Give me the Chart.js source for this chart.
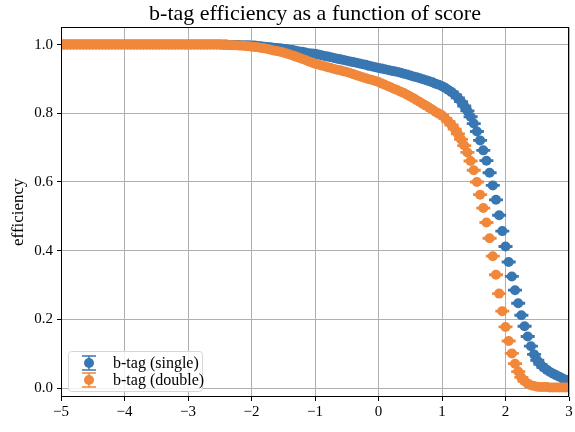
<!DOCTYPE html>
<html>
<head>
<meta charset="utf-8">
<script src="https://cdn.jsdelivr.net/npm/chart.js@4.4.1/dist/chart.umd.min.js"></script>
<style>
  html, body { margin: 0; padding: 0; background: #fff; }
  #wrap { width: 575px; height: 432px; }
</style>
</head>
<body>
<div id="wrap"><canvas id="effChart" width="575" height="432"></canvas></div>
<script>
// score thresholds: -5 .. 3, step 0.05
const SCORE_START = -5, SCORE_STEP = 0.05, SCORE_COUNT = 161;
const scores = Array.from({ length: SCORE_COUNT }, (_, i) => +(SCORE_START + i * SCORE_STEP).toFixed(2));

// efficiency per threshold, one row = 10 thresholds (0.5 in score)
const effSingle = [
  1.000, 1.000, 1.000, 1.000, 1.000, 1.000, 1.000, 1.000, 1.000, 1.000,
  1.000, 1.000, 1.000, 1.000, 1.000, 1.000, 1.000, 1.000, 1.000, 1.000,
  1.000, 1.000, 1.000, 1.000, 1.000, 1.000, 1.000, 1.000, 1.000, 1.000,
  1.000, 1.000, 1.000, 1.000, 1.000, 1.000, 1.000, 1.000, 1.000, 1.000,
  1.000, 1.000, 1.000, 1.000, 1.000, 1.000, 1.000, 1.000, 1.000, 1.000,
  1.000, 1.000, 1.000, 0.999, 0.999, 0.999, 0.999, 0.998, 0.998, 0.998,
  0.997, 0.997, 0.996, 0.995, 0.994, 0.993, 0.992, 0.991, 0.990, 0.989,
  0.988, 0.987, 0.985, 0.984, 0.982, 0.980, 0.979, 0.977, 0.975, 0.974,
  0.973, 0.971, 0.969, 0.967, 0.965, 0.963, 0.961, 0.959, 0.957, 0.955,
  0.953, 0.951, 0.949, 0.947, 0.945, 0.943, 0.941, 0.938, 0.936, 0.934,
  0.932, 0.930, 0.928, 0.926, 0.924, 0.922, 0.920, 0.918, 0.915, 0.913,
  0.910, 0.907, 0.905, 0.902, 0.899, 0.896, 0.893, 0.890, 0.886, 0.883,
  0.879, 0.874, 0.868, 0.862, 0.854, 0.845, 0.834, 0.821, 0.807, 0.790,
  0.770, 0.747, 0.721, 0.692, 0.662, 0.627, 0.590, 0.548, 0.503, 0.457,
  0.412, 0.367, 0.325, 0.285, 0.247, 0.212, 0.180, 0.150, 0.122, 0.098,
  0.081, 0.069, 0.060, 0.053, 0.047, 0.042, 0.037, 0.033, 0.028, 0.024,
  0.020
];
const effDouble = [
  1.000, 1.000, 1.000, 1.000, 1.000, 1.000, 1.000, 1.000, 1.000, 1.000,
  1.000, 1.000, 1.000, 1.000, 1.000, 1.000, 1.000, 1.000, 1.000, 1.000,
  1.000, 1.000, 1.000, 1.000, 1.000, 1.000, 1.000, 1.000, 1.000, 1.000,
  1.000, 1.000, 1.000, 1.000, 1.000, 1.000, 1.000, 1.000, 1.000, 1.000,
  1.000, 1.000, 1.000, 1.000, 1.000, 1.000, 1.000, 1.000, 1.000, 1.000,
  1.000, 0.999, 0.999, 0.999, 0.998, 0.998, 0.997, 0.997, 0.996, 0.995,
  0.994, 0.993, 0.992, 0.990, 0.989, 0.987, 0.985, 0.983, 0.981, 0.979,
  0.977, 0.974, 0.971, 0.968, 0.965, 0.962, 0.958, 0.955, 0.951, 0.948,
  0.944, 0.942, 0.939, 0.937, 0.934, 0.932, 0.929, 0.927, 0.925, 0.922,
  0.920, 0.917, 0.914, 0.911, 0.908, 0.905, 0.902, 0.899, 0.897, 0.894,
  0.891, 0.887, 0.883, 0.879, 0.875, 0.871, 0.867, 0.863, 0.859, 0.854,
  0.849, 0.844, 0.838, 0.833, 0.827, 0.822, 0.816, 0.810, 0.804, 0.799,
  0.794, 0.785, 0.776, 0.766, 0.754, 0.740, 0.724, 0.706, 0.686, 0.661,
  0.634, 0.600, 0.563, 0.524, 0.482, 0.436, 0.384, 0.330, 0.275, 0.224,
  0.178, 0.137, 0.101, 0.071, 0.048, 0.031, 0.020, 0.013, 0.008, 0.006,
  0.004, 0.003, 0.003, 0.003, 0.002, 0.002, 0.002, 0.002, 0.002, 0.002,
  0.002
];
const ERR = 0.002;   // statistical error on each efficiency point

const seriesLabels = ['b-tag (single)', 'b-tag (double)'];
const seriesColors = ['#3877b1', '#f0873a'];
const xTicks = [-5, -4, -3, -2, -1, 0, 1, 2, 3];
const yTicks = [0.0, 0.2, 0.4, 0.6, 0.8, 1.0];
const TITLE = 'b-tag efficiency as a function of score';

const SERIF = '"Liberation Serif", "DejaVu Serif", serif';
Chart.defaults.font.family = SERIF;
Chart.defaults.color = '#000';

const fmtTick = (v, digits) => {
  const s = Math.abs(v).toFixed(digits);
  return v < 0 ? '\u2212' + s : s;
};

// caps of the vertical error bars, drawn under each dataset's markers
const errorBars = {
  id: 'errorBars',
  beforeDatasetDraw(chart, args) {
    const { ctx, chartArea: a } = chart;
    const ds = chart.data.datasets[args.index];
    const yScale = chart.scales.y;
    ctx.save();
    ctx.beginPath();
    ctx.rect(a.left, a.top, a.right - a.left, a.bottom - a.top);
    ctx.clip();
    ctx.strokeStyle = ds.backgroundColor;
    ctx.lineWidth = 1.5;
    args.meta.data.forEach((pt, i) => {
      const v = ds.data[i].y;
      const yHi = yScale.getPixelForValue(v + ERR);
      const yLo = yScale.getPixelForValue(v - ERR);
      ctx.beginPath();
      ctx.moveTo(pt.x, yHi); ctx.lineTo(pt.x, yLo);
      ctx.moveTo(pt.x - 7, yHi); ctx.lineTo(pt.x + 7, yHi);
      ctx.moveTo(pt.x - 7, yLo); ctx.lineTo(pt.x + 7, yLo);
      ctx.stroke();
    });
    ctx.restore();
  }
};

// black box round the plot
const frame = {
  id: 'frame',
  afterDatasetsDraw(chart) {
    const { ctx, chartArea: a } = chart;
    ctx.save();
    ctx.strokeStyle = '#000';
    ctx.lineWidth = 1;
    ctx.strokeRect(Math.round(a.left) + 0.5, Math.round(a.top) + 0.5,
                   Math.round(a.right - a.left) - 1, Math.round(a.bottom - a.top) - 1);
    ctx.restore();
  }
};

// legend in the lower left corner of the axes
const cornerLegend = {
  id: 'cornerLegend',
  afterDraw(chart) {
    const { ctx, chartArea: a } = chart;
    const w = 134, h = 40, x0 = a.left + 7, y0 = a.bottom - 6 - h;
    ctx.save();
    ctx.beginPath();
    ctx.roundRect(x0 + 0.5, y0 + 0.5, w, h, 3);
    ctx.fillStyle = 'rgba(255,255,255,0.8)';
    ctx.fill();
    ctx.strokeStyle = '#d6d6d6';
    ctx.lineWidth = 1;
    ctx.stroke();
    ctx.font = '16px ' + SERIF;
    ctx.textBaseline = 'middle';
    chart.data.datasets.forEach((ds, i) => {
      const cy = y0 + 12 + i * 17;
      const mx = x0 + 21;
      ctx.strokeStyle = ds.backgroundColor;
      ctx.fillStyle = ds.backgroundColor;
      ctx.lineWidth = 1.5;
      ctx.beginPath();
      ctx.moveTo(mx, cy - 7); ctx.lineTo(mx, cy + 7);
      ctx.moveTo(mx - 7, cy - 7); ctx.lineTo(mx + 7, cy - 7);
      ctx.moveTo(mx - 7, cy + 7); ctx.lineTo(mx + 7, cy + 7);
      ctx.stroke();
      ctx.beginPath();
      ctx.arc(mx, cy, 5, 0, Math.PI * 2);
      ctx.fill();
      ctx.fillStyle = '#000';
      ctx.fillText(ds.label, x0 + 45, cy + 1);
    });
    ctx.restore();
  }
};

const datasets = [effSingle, effDouble].map((vals, k) => ({
  label: seriesLabels[k],
  data: scores.map((s, i) => ({ x: s, y: vals[i] })),
  backgroundColor: seriesColors[k],
  borderWidth: 0,
  pointRadius: 5,
  pointHoverRadius: 5,
  showLine: false,
  clip: 0,
  order: k === 0 ? 1 : 0   // second series painted on top
}));

new Chart(document.getElementById('effChart'), {
  type: 'scatter',
  data: { datasets },
  plugins: [errorBars, frame, cornerLegend],
  options: {
    responsive: false,
    animation: false,
    events: [],
    layout: { padding: { left: 0, right: 6, top: 0, bottom: 0 } },
    plugins: {
      legend: { display: false },
      tooltip: { enabled: false },
      title: {
        display: true,
        fullSize: false,
        text: TITLE,
        color: '#000',
        font: { family: SERIF, size: 22, weight: 'normal' },
        padding: { top: 1, bottom: 0 }
      }
    },
    scales: {
      x: {
        type: 'linear',
        min: -5,
        max: 3,
        afterBuildTicks: ax => { ax.ticks = xTicks.map(v => ({ value: v })); },
        afterFit: s => { s.height = 35; },
        ticks: { callback: v => fmtTick(v, 0), font: { size: 15 }, padding: 2, maxRotation: 0, autoSkip: false },
        grid: { color: '#b0b0b0', lineWidth: 1, tickLength: 4, tickColor: '#000', tickWidth: 1 },
        border: { display: false }
      },
      y: {
        type: 'linear',
        min: -0.026,
        max: 1.05,
        afterBuildTicks: ax => { ax.ticks = yTicks.map(v => ({ value: v })); },
        afterFit: s => { s.width = 61; },
        ticks: { callback: v => fmtTick(v, 1), font: { size: 15 }, padding: 4, autoSkip: false },
        grid: { color: '#b0b0b0', lineWidth: 1, tickLength: 4, tickColor: '#000', tickWidth: 1 },
        border: { display: false },
        title: {
          display: true,
          text: 'efficiency',
          color: '#000',
          font: { family: SERIF, size: 17 },
          padding: { top: 8, bottom: 0 }
        }
      }
    }
  }
});
</script>
</body>
</html>
